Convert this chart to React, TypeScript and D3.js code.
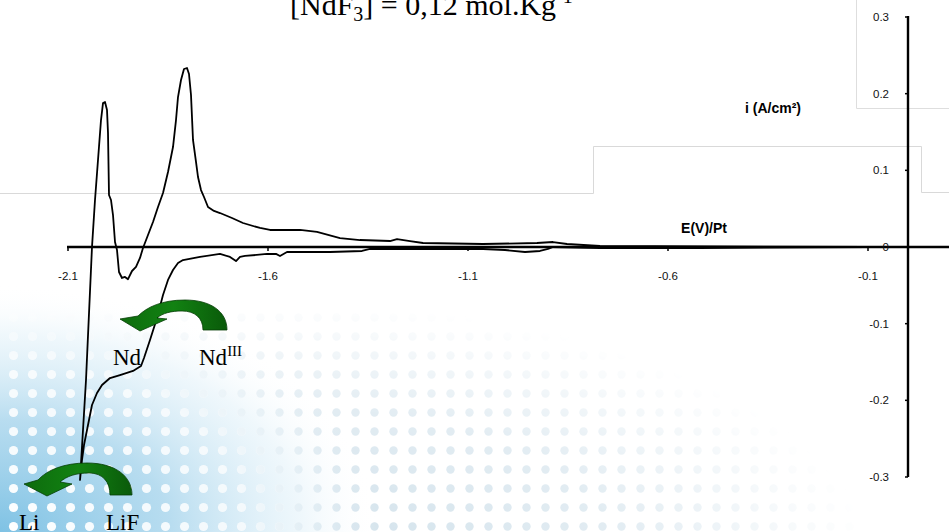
import React from "react";
import * as d3 from "d3";

// Cyclic voltammogram: potential (V vs Pt) and current density (A/cm²), in scan order
const potential = [
  -0.1, -0.52, -0.77, -0.8875, -0.9, -0.92, -0.9575, -1.0075, -1.0625, -1.22, -1.345, -1.365,
  -1.445, -1.5525, -1.57, -1.58, -1.6025, -1.6575, -1.67, -1.68, -1.695, -1.72, -1.77, -1.8125,
  -1.825, -1.8375, -1.85, -1.8625, -1.8775, -1.895, -1.91, -1.9175, -1.9375, -1.97, -1.995,
  -2.015, -2.0275, -2.04, -2.05, -2.06, -2.065, -2.07,
  -2.055, -2.04, -2.0325, -2.025, -2.0175, -2.0125, -2.0075, -2.0025, -2.0, -1.9975, -1.9925,
  -1.9875, -1.9825, -1.9775, -1.9725, -1.965, -1.9575, -1.95, -1.94, -1.93, -1.92, -1.9125, -1.9,
  -1.8875, -1.875, -1.8625, -1.85, -1.8375, -1.83, -1.825, -1.8175, -1.81, -1.8025, -1.7975,
  -1.7925, -1.7875, -1.78, -1.775, -1.7675, -1.76, -1.75, -1.735, -1.72, -1.69, -1.6625, -1.62,
  -1.595, -1.52, -1.4775, -1.42, -1.37, -1.295, -1.2775, -1.245, -1.2125, -1.0625, -0.9275,
  -0.8875, -0.8525, -0.77, -0.1,
];
const current = [
  0, -0.0013, -0.0013, 0, -0.0026, -0.0052, -0.0065, -0.0039, -0.0026, -0.0026, -0.0026, -0.0052,
  -0.0065, -0.0065, -0.0117, -0.009, -0.0091, -0.0117, -0.013, -0.0183, -0.013, -0.0091, -0.013,
  -0.017, -0.0209, -0.03, -0.043, -0.0626, -0.0926, -0.1213, -0.1448, -0.1552, -0.1617, -0.167,
  -0.1709, -0.18, -0.1904, -0.2061, -0.2322, -0.2583, -0.2778, -0.3039,
  -0.1735, 0, 0.0613, 0.1135, 0.1656, 0.1878, 0.1891, 0.1787, 0.1487, 0.0678, 0.0613, 0.0417,
  0.0065, -0.0039, -0.0326, -0.0404, -0.0391, -0.042, -0.0313, -0.026, -0.0143, -0.0013, 0.0157,
  0.0326, 0.0522, 0.0704, 0.0978, 0.1304, 0.1656, 0.1956, 0.2178, 0.2322, 0.2335, 0.2257,
  0.1983, 0.1396, 0.1109, 0.0913, 0.0743, 0.0652, 0.0522, 0.047, 0.0443, 0.0378, 0.0313, 0.0248,
  0.0222, 0.0222, 0.0196, 0.0117, 0.0091, 0.0078, 0.0104, 0.0078, 0.0052, 0.0039, 0.0052,
  0.0065, 0.0039, 0.0013, 0,
];
const xTicks = [-2.1, -1.6, -1.1, -0.6, -0.1];
const xTickLabels = ["-2.1", "-1.6", "-1.1", "-0.6", "-0.1"];
const yTicks = [0.3, 0.2, 0.1, 0, -0.1, -0.2, -0.3];
const yTickLabels = ["0.3", "0.2", "0.1", "0", "-0.1", "-0.2", "-0.3"];

const W = 949;
const H = 532;

export default function App() {
  const x = d3.scaleLinear().domain([-2.1, -0.1]).range([68, 868]);
  const y = d3.scaleLinear().domain([-0.3, 0.3]).range([477, 17]);
  const pts = potential.map((e, k) => [e, current[k]] as [number, number]);
  const line = d3
    .line<[number, number]>()
    .x((d) => x(d[0]))
    .y((d) => y(d[1]))
    .curve(d3.curveLinear);

  const y0 = y(0);
  const axisX = 908;
  const tickFont = "'Liberation Sans', Arial, sans-serif";

  // arrow shapes (PowerPoint-like curved arrows)
  const ndArrow =
    "M227,330 C227,311 210,300 185,300 C162,300 147,307 138,316 L120,319 L140,331 L167,319 L157,318 C163,313 171,311 182,311 C195,311 203,318 203,330 Z";
  const liArrow =
    "M132,495 C132,476 115,463 87,463 C64,463 47,470 38,480 L24,484 L47,496 L72,484 L60,482 C67,476 76,473 89,473 C103,473 110,482 110,495 Z";

  return (
    <div style={{ position: "fixed", left: 0, top: 0, width: W, height: H, background: "#fff" }}>
      <svg width={W} height={H} style={{ display: "block" }}>
        <defs>
          <radialGradient
            id="blueGlow"
            gradientUnits="userSpaceOnUse"
            cx={0}
            cy={532}
            r={330}
            gradientTransform="translate(0,532) scale(1.15,0.75) translate(0,-532)"
          >
            <stop offset="0" stopColor="#7fc2e4" stopOpacity={1} />
            <stop offset="0.45" stopColor="#a6d4ec" stopOpacity={0.8} />
            <stop offset="0.8" stopColor="#d2eaf6" stopOpacity={0.35} />
            <stop offset="1" stopColor="#ffffff" stopOpacity={0} />
          </radialGradient>
          <radialGradient
            id="dotFade"
            gradientUnits="userSpaceOnUse"
            cx={250}
            cy={560}
            r={620}
            gradientTransform="translate(250,560) scale(1,0.42) translate(-250,-560)"
          >
            <stop offset="0" stopColor="#fff" stopOpacity={1} />
            <stop offset="0.6" stopColor="#fff" stopOpacity={0.6} />
            <stop offset="1" stopColor="#fff" stopOpacity={0} />
          </radialGradient>
          <radialGradient
            id="whiteDotFade"
            gradientUnits="userSpaceOnUse"
            cx={0}
            cy={532}
            r={320}
            gradientTransform="translate(0,532) scale(1.1,0.75) translate(0,-532)"
          >
            <stop offset="0" stopColor="#fff" stopOpacity={1} />
            <stop offset="0.7" stopColor="#fff" stopOpacity={0.8} />
            <stop offset="1" stopColor="#fff" stopOpacity={0} />
          </radialGradient>
          <mask id="grayMask">
            <rect x={0} y={0} width={W} height={H} fill="url(#dotFade)" />
          </mask>
          <mask id="whiteMask">
            <rect x={0} y={0} width={W} height={H} fill="url(#whiteDotFade)" />
          </mask>
          <pattern id="dotsGray" width={19} height={19} patternUnits="userSpaceOnUse" x={4} y={4}>
            <circle cx={9.5} cy={9.5} r={4.2} fill="#cfe0ea" />
          </pattern>
          <pattern id="dotsWhite" width={19} height={19} patternUnits="userSpaceOnUse" x={4} y={4}>
            <circle cx={9.5} cy={9.5} r={4.6} fill="#ffffff" />
          </pattern>
          <linearGradient id="greenFill" x1="0" y1="0" x2="1" y2="0">
            <stop offset="0" stopColor="#0d6b0d" />
            <stop offset="0.5" stopColor="#128212" />
            <stop offset="1" stopColor="#0a5a0a" />
          </linearGradient>
        </defs>

        {/* slide background decoration */}
        <rect x={0} y={0} width={W} height={H} fill="#fff" />
        <rect x={0} y={300} width={W} height={232} fill="url(#dotsGray)" mask="url(#grayMask)" />
        <rect x={0} y={280} width={500} height={252} fill="url(#blueGlow)" />
        <rect x={0} y={280} width={500} height={252} fill="url(#dotsWhite)" mask="url(#whiteMask)" />

        <path
          d="M0,193.5 H593.5 V146.5 H921.5 V192.5 H949"
          fill="none"
          stroke="#d9d9d9"
          strokeWidth={1}
        />
        <path d="M856.5,0 V108.5 H949" fill="none" stroke="#dedede" strokeWidth={1} />

        {/* title */}
        <text
          x={290}
          y={15}
          fontFamily="'Liberation Serif', 'Times New Roman', serif"
          fontSize={30}
          fill="#000"
        >
          [NdF
          <tspan fontSize={20} dy={6}>3</tspan>
          <tspan dy={-6}>] = 0,12 mol.Kg</tspan>
          <tspan fontSize={20} dy={-12}>-1</tspan>
        </text>

        {/* axes */}
        <line x1={67} x2={W} y1={y0} y2={y0} stroke="#000" strokeWidth={2.4} />
        <line x1={axisX} x2={axisX} y1={y(0.3) - 1} y2={y(-0.3)} stroke="#000" strokeWidth={2.4} />
        {xTicks.map((t, k) => (
          <g key={"xt" + k}>
            <line x1={x(t)} x2={x(t)} y1={y0} y2={y0 + 4} stroke="#000" strokeWidth={1.5} />
            <text
              x={x(t)}
              y={y0 + 33}
              textAnchor="middle"
              fontFamily={tickFont}
              fontSize={11.5}
              fill="#111"
            >
              {xTickLabels[k]}
            </text>
          </g>
        ))}
        {yTicks.map((t, k) => (
          <g key={"yt" + k}>
            <line x1={axisX - 3} x2={axisX} y1={y(t)} y2={y(t)} stroke="#000" strokeWidth={1.5} />
            <text
              x={889}
              y={y(t) + 4}
              textAnchor="end"
              fontFamily={tickFont}
              fontSize={11.5}
              fill="#111"
            >
              {yTickLabels[k]}
            </text>
          </g>
        ))}

        <text x={773} y={113} textAnchor="middle" fontFamily={tickFont} fontSize={14} fontWeight="bold">
          i (A/cm²)
        </text>
        <text x={704} y={233} textAnchor="middle" fontFamily={tickFont} fontSize={14} fontWeight="bold">
          E(V)/Pt
        </text>

        {/* voltammogram */}
        <path
          d={line(pts) || ""}
          fill="none"
          stroke="#000"
          strokeWidth={1.8}
          strokeLinejoin="round"
        />

        {/* reaction arrows */}
        <path d={ndArrow} fill="url(#greenFill)" stroke="#063d06" strokeWidth={0.8} />
        <path d={liArrow} fill="url(#greenFill)" stroke="#063d06" strokeWidth={0.8} />

        <g fontFamily="'Liberation Serif', 'Times New Roman', serif" fontSize={23} fill="#000">
          <text x={113} y={365}>Nd</text>
          <text x={199} y={365}>
            Nd<tspan fontSize={15} dy={-9}>III</tspan>
          </text>
          <text x={19} y={530}>Li</text>
          <text x={106} y={530}>LiF</text>
        </g>
      </svg>
    </div>
  );
}
